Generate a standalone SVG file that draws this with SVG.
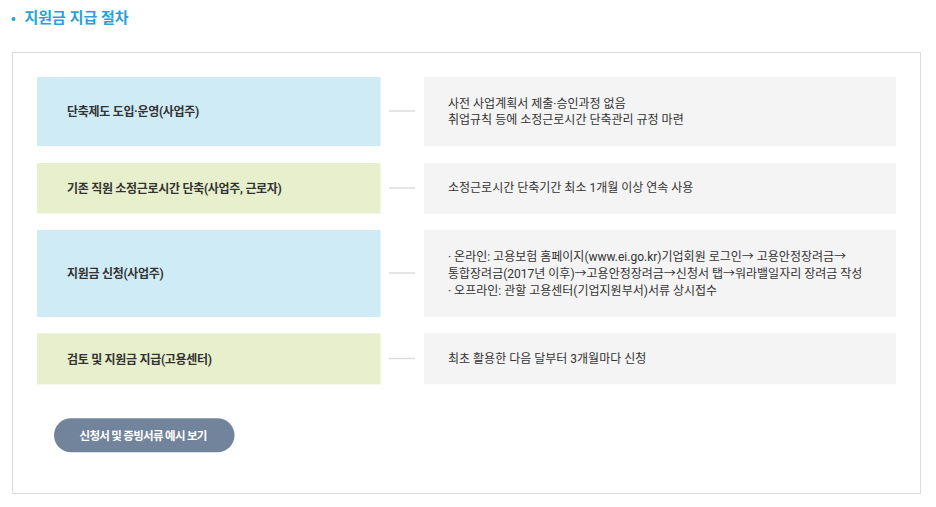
<svg xmlns="http://www.w3.org/2000/svg" width="936" height="507" viewBox="0 0 936 507">
<style>
text{font-family:Roboto,"Noto Sans CJK KR",sans-serif;}
.title{font-size:15px;font-weight:700;fill:#2b9fd9;}
.frame{fill:#fff;stroke:#dcdcdc;stroke-width:1;}
.blue{fill:#cfebf6;}
.green{fill:#e7efcc;}
.desc{fill:#f4f4f4;}
.lbl{font-size:12px;font-weight:700;fill:#333;letter-spacing:-0.3px;}
.txt{font-size:12px;font-weight:400;fill:#333;}
.conn{stroke:#dddddd;stroke-width:1.5;fill:none;}
.btn{fill:#72849b;}
.btntxt{font-size:11.5px;font-weight:700;fill:#fff;letter-spacing:-0.7px;}
</style>
<rect width="936" height="507" fill="#fff"/>
<g id="title">
<circle cx="13.5" cy="19" r="2" fill="#2b9fd9"/>
<text class="title" x="24.5" y="23">지원금 지급 절차</text>
</g>
<rect class="frame" x="12.5" y="52.5" width="908" height="441"/>
<g id="connectors">
<line class="conn" x1="389" y1="111" x2="415" y2="111"/>
<line class="conn" x1="389" y1="188" x2="415" y2="188"/>
<line class="conn" x1="389" y1="273" x2="415" y2="273"/>
<line class="conn" x1="389" y1="358.5" x2="415" y2="358.5"/>
</g>
<g id="step1">
<rect class="blue" x="37" y="77" width="343.5" height="69"/>
<text class="lbl" x="67" y="116">단축제도 도입·운영(사업주)</text>
</g>
<g id="desc1">
<rect class="desc" x="424" y="77" width="472" height="69"/>
<text class="txt" x="448" y="107.5">사전 사업계획서 제출·승인과정 없음</text>
<text class="txt" x="448" y="124">취업규칙 등에 소정근로시간 단축관리 규정 마련</text>
</g>
<g id="step2">
<rect class="green" x="37" y="163" width="343.5" height="50.5"/>
<text class="lbl" x="67" y="192.5">기존 직원 소정근로시간 단축(사업주, 근로자)</text>
</g>
<g id="desc2">
<rect class="desc" x="424" y="163" width="472" height="50.5"/>
<text class="txt" x="448" y="192">소정근로시간 단축기간 최소 1개월 이상 연속 사용</text>
</g>
<g id="step3">
<rect class="blue" x="37" y="230" width="343.5" height="87"/>
<text class="lbl" x="67" y="278">지원금 신청(사업주)</text>
</g>
<g id="desc3">
<rect class="desc" x="424" y="230" width="472" height="87"/>
<text class="txt" x="448" y="260.5">· 온라인: 고용보험 홈페이지(www.ei.go.kr)기업회원 로그인→ 고용안정장려금→</text>
<text class="txt" x="448" y="277.5">통합장려금(2017년 이후)→고용안정장려금→신청서 탭→워라밸일자리 장려금 작성</text>
<text class="txt" x="448" y="294.5">· 오프라인: 관할 고용센터(기업지원부서)서류 상시접수</text>
</g>
<g id="step4">
<rect class="green" x="37" y="333.3" width="343.5" height="51"/>
<text class="lbl" x="67" y="364">검토 및 지원금 지급(고용센터)</text>
</g>
<g id="desc4">
<rect class="desc" x="424" y="333.3" width="472" height="51"/>
<text class="txt" x="448" y="363">최초 활용한 다음 달부터 3개월마다 신청</text>
</g>
<g id="button">
<rect class="btn" x="54" y="418.3" width="180.5" height="34" rx="17"/>
<text class="btntxt" x="79.5" y="439.5">신청서 및 증빙서류 예시 보기</text>
</g>
</svg>
